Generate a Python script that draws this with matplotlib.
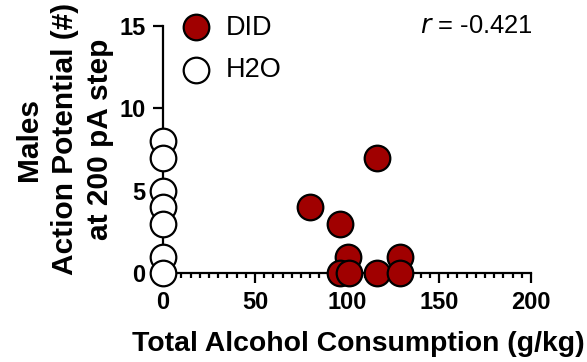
import matplotlib
matplotlib.use("Agg")
import matplotlib.pyplot as plt
from matplotlib.ticker import MultipleLocator

plt.rcParams['font.family'] = ['Liberation Sans', 'DejaVu Sans']

# Total alcohol consumption (g/kg) vs action potentials at 200 pA
did_x = [80, 96, 100.5, 129, 116.5, 96, 101, 116.5, 129]
did_y = [4, 3, 1, 1, 7, 0, 0, 0, 0]
h2o_x = [0, 0, 0, 0, 0, 0, 0]
h2o_y = [8, 7, 5, 4, 3, 1, 0]
r_text = "-0.421"

fig = plt.figure(figsize=(5.87, 3.62), dpi=100)
ax = fig.add_axes([163/587, 1 - 273/362, (531-163)/587, (273-26)/362])

ms = 340
lw = 1.6
ax.scatter(h2o_x, h2o_y, s=ms, facecolor='white', edgecolor='black',
           linewidth=lw, zorder=3, clip_on=False, label='H2O')
ax.scatter(did_x, did_y, s=ms, facecolor='#a00000', edgecolor='black',
           linewidth=lw, zorder=4, clip_on=False, label='DID')

ax.set_xlim(0, 200)
ax.set_ylim(0, 15)
for s in ['top', 'right']:
    ax.spines[s].set_visible(False)
for s in ['left', 'bottom']:
    ax.spines[s].set_linewidth(1.6)

ax.xaxis.set_major_locator(MultipleLocator(50))
ax.xaxis.set_minor_locator(MultipleLocator(5))
ax.yaxis.set_major_locator(MultipleLocator(5))
ax.tick_params(axis='both', which='major', length=7.5, width=1.6,
               labelsize=17)
ax.tick_params(axis='x', which='major', pad=5.5)
ax.tick_params(axis='y', which='major', pad=5)
ax.tick_params(axis='x', which='minor', length=3.6, width=1.6)
for lab in ax.get_xticklabels() + ax.get_yticklabels():
    lab.set_fontweight('bold')

ax.set_xlabel('Total Alcohol Consumption (g/kg)', fontsize=20.4,
              fontweight='bold', labelpad=12)
ax.xaxis.label.set_x(0.53)
ax.set_ylabel('Males\nAction Potential (#)\nat 200 pA step', fontsize=21.5,
              fontweight='bold', labelpad=4, linespacing=1.33)
ax.yaxis.label.set_y(0.5425)

handles, labels = ax.get_legend_handles_labels()
leg = ax.legend(handles[::-1], labels[::-1], loc='upper left',
                bbox_to_anchor=(-0.013, 1.09), frameon=False, fontsize=19.5,
                handletextpad=0.1, labelspacing=0.6, borderaxespad=0,
                scatterpoints=1)

ax.text(1.005, 1.0, r'$\it{r}$ = ' + r_text, transform=ax.transAxes,
        ha='right', va='center', fontsize=18.4)

fig.savefig('out.png', dpi=100)
